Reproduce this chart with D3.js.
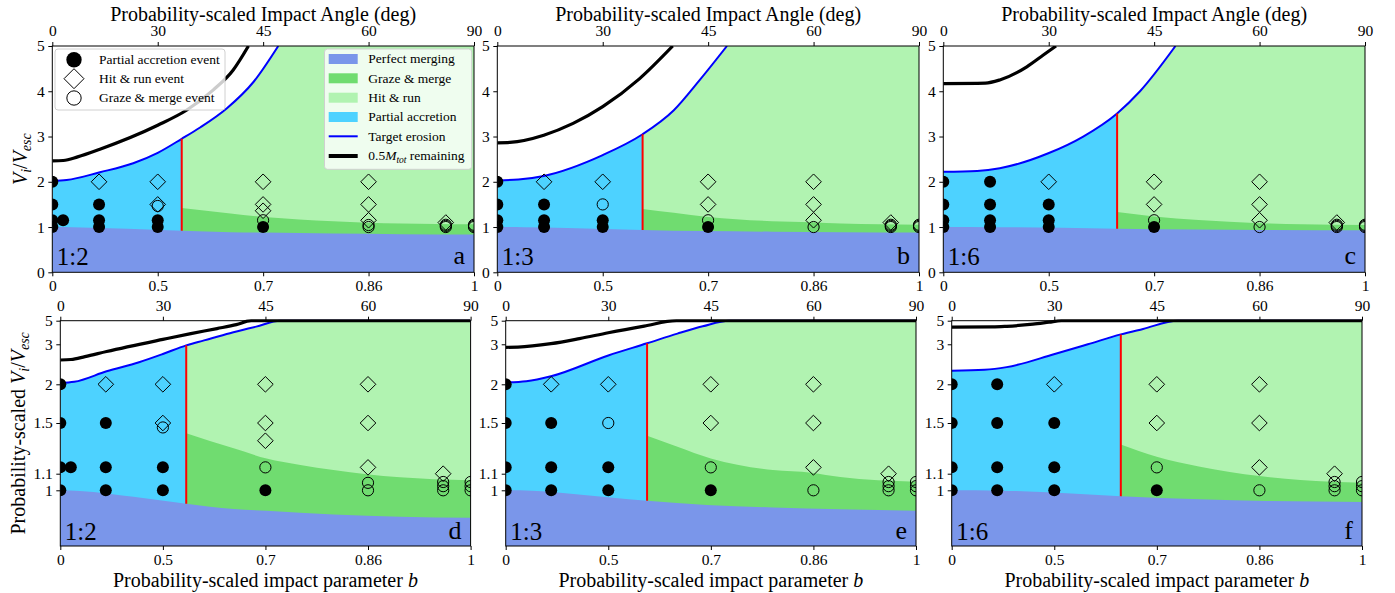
<!DOCTYPE html>
<html><head><meta charset="utf-8">
<script src="https://cdn.jsdelivr.net/npm/d3@7"></script>
<style>body{margin:0;background:#fff;} svg{display:block;}</style>
</head><body><svg id="chart" width="1395" height="593"></svg>
<script>
// ---------------- data ----------------
const RATIOS = ["1:2", "1:3", "1:6"];
const LETTERS_TOP = ["a", "b", "c"];
const LETTERS_BOTTOM = ["d", "e", "f"];
const B_TICKS = [0, 0.5, 0.7071, 0.866, 1];
const B_TICK_LABELS = ["0", "0.5", "0.7", "0.86", "1"];
const ANGLE_TICKS = [0, 30, 45, 60, 90];
const V_TICKS_TOP = [0, 1, 2, 3, 4, 5];
const V_TICKS_BOTTOM = [1, 1.1, 1.5, 2, 3, 5];
// probability-scaled velocity axis: reference velocities and their cumulative fraction of axis height
const V_PROB_VALUES    = [0.665, 1, 1.1, 1.5, 2, 2.22, 2.5, 2.86, 3, 3.5, 4.2, 5];
const V_PROB_FRACTIONS = [0, 0.2472, 0.3209, 0.5459, 0.7177, 0.7781, 0.8336, 0.8819, 0.8953, 0.9387, 0.9734, 1];

// b at the partial-accretion / hit-and-run transition
const RED_B = [0.554, 0.587, 0.642];

// perfect merging upper boundary [b, V/Vesc]
const PM_12 = [[0,1.0],[0.219,0.996],[0.422,0.961],[0.554,0.919],[0.65,0.887],[0.709,0.877],[0.816,0.855],[0.91,0.841],[1,0.835]];
const PM_13 = [[0,1.0],[0.25,0.998],[0.406,0.978],[0.587,0.937],[0.7,0.911],[0.807,0.897],[0.903,0.886],[1,0.877]];
const PM_16 = [[0,1.0],[0.344,0.998],[0.529,0.982],[0.642,0.964],[0.778,0.946],[0.876,0.936],[1,0.93]];
// graze & merge upper boundary
const GRAZE_12 = [[0.554,1.42],[0.65,1.30],[0.709,1.22],[0.765,1.169],[0.816,1.129],[0.864,1.096],[0.91,1.078],[0.954,1.066],[1,1.06]];
const GRAZE_13 = [[0.587,1.40],[0.647,1.313],[0.707,1.22],[0.807,1.129],[0.863,1.108],[0.903,1.08],[1,1.052]];
const GRAZE_16 = [[0.642,1.33],[0.707,1.234],[0.778,1.155],[0.866,1.086],[0.922,1.062],[1,1.046]];
// target erosion
const EROSION_12 = [[0,2.02],[0.184,2.04],[0.336,2.21],[0.438,2.41],[0.5,2.64],[0.554,2.95],[0.592,3.2],[0.643,3.62],[0.691,4.21],[0.732,5.0]];
const EROSION_13 = [[0,2.03],[0.224,2.05],[0.332,2.13],[0.5,2.59],[0.587,3.05],[0.647,3.58],[0.693,4.25],[0.738,5.0]];
const EROSION_16 = [[0,2.22],[0.283,2.24],[0.366,2.30],[0.499,2.63],[0.576,3.0],[0.642,3.51],[0.683,4.0],[0.742,5.0]];
// 0.5 Mtot remaining
const HALF_12 = [[0,2.46],[0.161,2.47],[0.245,2.55],[0.336,2.72],[0.5,3.25],[0.564,3.58],[0.618,4.03],[0.655,4.47],[0.682,5.0]];
const HALF_13 = [[0,2.86],[0.173,2.87],[0.332,3.03],[0.424,3.29],[0.5,3.66],[0.581,4.28],[0.645,5.0]];
const HALF_16 = [[0,4.17],[0.316,4.18],[0.366,4.25],[0.445,4.54],[0.487,4.8],[0.517,5.0]];

// simulated events [b, V/Vesc, type]  pa = partial accretion, hr = hit & run, gm = graze & merge
const EVENTS_12 = [
  [0,2,"pa"],[0,1.5,"pa"],[0,1.15,"pa"],[0,1,"pa"],[0.16,1.15,"pa"],
  [0.333,2,"hr"],[0.333,1.5,"pa"],[0.333,1.15,"pa"],[0.333,1,"pa"],
  [0.5,2,"hr"],[0.5,1.5,"hr"],[0.5,1.465,"gm"],[0.5,1.15,"pa"],[0.5,1,"pa"],
  [0.707,2,"hr"],[0.707,1.5,"hr"],[0.707,1.36,"hr"],[0.707,1.15,"gm"],[0.707,1,"pa"],
  [0.866,2,"hr"],[0.866,1.5,"hr"],[0.866,1.15,"hr"],[0.866,1.045,"gm"],[0.866,1,"gm"],
  [0.966,1.1,"hr"],[0.966,1.05,"gm"],[0.966,1.025,"gm"],[0.966,1,"gm"],
  [1,1.05,"gm"],[1,1.025,"gm"],[1,1,"gm"]
];
const EVENTS_13 = [
  [0,2,"pa"],[0,1.5,"pa"],[0,1.15,"pa"],[0,1,"pa"],
  [0.333,2,"hr"],[0.333,1.5,"pa"],[0.333,1.15,"pa"],[0.333,1,"pa"],
  [0.5,2,"hr"],[0.5,1.5,"gm"],[0.5,1.15,"pa"],[0.5,1,"pa"],
  [0.707,2,"hr"],[0.707,1.5,"hr"],[0.707,1.15,"gm"],[0.707,1,"pa"],
  [0.866,2,"hr"],[0.866,1.5,"hr"],[0.866,1.15,"hr"],[0.866,1,"gm"],
  [0.966,1.1,"hr"],[0.966,1.05,"gm"],[0.966,1.025,"gm"],[0.966,1,"gm"],
  [1,1.05,"gm"],[1,1.025,"gm"],[1,1,"gm"]
];
const EVENTS_16 = [
  [0,2,"pa"],[0,1.5,"pa"],[0,1.15,"pa"],[0,1,"pa"],
  [0.333,2,"pa"],[0.333,1.5,"pa"],[0.333,1.15,"pa"],[0.333,1,"pa"],
  [0.5,2,"hr"],[0.5,1.5,"pa"],[0.5,1.15,"pa"],[0.5,1,"pa"],
  [0.707,2,"hr"],[0.707,1.5,"hr"],[0.707,1.15,"gm"],[0.707,1,"pa"],
  [0.866,2,"hr"],[0.866,1.5,"hr"],[0.866,1.15,"hr"],[0.866,1,"gm"],
  [0.966,1.1,"hr"],[0.966,1.05,"gm"],[0.966,1.025,"gm"],[0.966,1,"gm"],
  [1,1.05,"gm"],[1,1.025,"gm"],[1,1,"gm"]
];

const PM = [PM_12, PM_13, PM_16];
const GRAZE = [GRAZE_12, GRAZE_13, GRAZE_16];
const EROSION = [EROSION_12, EROSION_13, EROSION_16];
const HALF = [HALF_12, HALF_13, HALF_16];
const EVENTS = [EVENTS_12, EVENTS_13, EVENTS_16];

const REGION_NAMES = ["Perfect merging", "Graze & merge", "Hit & run", "Partial accretion"];
const EVENT_NAMES = ["Partial accretion event", "Hit & run event", "Graze & merge event"];

// ---------------- style / layout ----------------
const FONT = '"Liberation Serif","Times New Roman",serif';
const COLORS = { pm: "#7a96ea", gm: "#70dc70", hr: "#b1f3b1", pa: "#4dd2ff" };
const TOPROW = { y0: 46, y1: 272.3, xs: [52.3, 497.3, 943.3], w: 421.7 };
const BOTROW = { y0: 320.7, y1: 546, xs: [60.3, 505.7, 951.7], w: 410.3 };

const svg = d3.select("#chart");
const defs = svg.append("defs");

function diamondPath(cx, cy, h) {
  return `M${cx},${cy - h}L${cx + h},${cy}L${cx},${cy + h}L${cx - h},${cy}Z`;
}
function drawMarker(g, type, cx, cy, scale) {
  if (type === "pa") {
    g.append("circle").attr("cx", cx).attr("cy", cy).attr("r", 6 * scale).attr("fill", "#000");
  } else if (type === "gm") {
    g.append("circle").attr("cx", cx).attr("cy", cy).attr("r", 5.6 * scale).attr("fill", "none").attr("stroke", "#000").attr("stroke-width", 1);
  } else {
    g.append("path").attr("d", diamondPath(cx, cy, 7.8 * scale)).attr("fill", "none").attr("stroke", "#000").attr("stroke-width", 1);
  }
}
function clipRect(id, x0, y0, w, h) {
  defs.append("clipPath").attr("id", id).append("rect").attr("x", x0).attr("y", y0).attr("width", w).attr("height", h);
  return `url(#${id})`;
}

function drawPanel(row, col) {
  const L = row === 0 ? TOPROW : BOTROW;
  const left = L.xs[col], right = left + L.w, top = L.y0, bottom = L.y1;
  const x = d3.scalePow().exponent(2).domain([0, 1]).range([left, right]);
  const y = row === 0
    ? d3.scaleLinear().domain([0, 5]).range([bottom, top])
    : d3.scaleLinear().domain(V_PROB_VALUES).range(V_PROB_FRACTIONS.map(f => bottom - f * (bottom - top)));
  const vmin = row === 0 ? 0 : V_PROB_VALUES[0];

  const red = RED_B[col];
  const pm = PM[col], gz = GRAZE[col];
  let er = EROSION[col], half = HALF[col];
  if (row === 1) { er = er.concat([[1, 5]]); half = half.concat([[1, 5]]); }

  const clipAll = clipRect(`c${row}${col}`, left, top, right - left, bottom - top);
  const clipLeft = clipRect(`cl${row}${col}`, left, top, x(red) - left, bottom - top);
  const clipLines = clipRect(`cn${row}${col}`, left, top - (row === 0 ? 0 : 1.5), right - left, bottom - top + 1.5);

  const area = (data, base) => d3.area().x(d => x(d[0])).y0(y(base)).y1(d => y(d[1])).curve(d3.curveMonotoneX)(data);
  const line = d3.line().x(d => x(d[0])).y(d => y(d[1])).curve(d3.curveMonotoneX);

  const g = svg.append("g").attr("clip-path", clipAll);
  g.append("rect").attr("x", x(red)).attr("y", top).attr("width", right - x(red)).attr("height", bottom - top).attr("fill", COLORS.hr);
  g.append("path").attr("d", area(er, vmin)).attr("fill", COLORS.pa).attr("clip-path", clipLeft);
  g.append("path").attr("d", area(er, 5)).attr("fill", "#fff");
  g.append("path").attr("d", area(gz, vmin)).attr("fill", COLORS.gm);
  g.append("path").attr("d", area(pm, vmin)).attr("fill", COLORS.pm);

  const gl = svg.append("g").attr("clip-path", clipLines);
  gl.append("path").attr("d", line(er)).attr("fill", "none").attr("stroke", "#0000ff").attr("stroke-width", 2);
  gl.append("path").attr("d", line(half)).attr("fill", "none").attr("stroke", "#000").attr("stroke-width", 3.2);
  const pmRed = pm.find(d => d[0] === red)[1];
  const erRed = er.find(d => d[0] === red)[1];
  gl.append("line").attr("x1", x(red)).attr("x2", x(red)).attr("y1", y(pmRed)).attr("y2", y(erRed))
    .attr("stroke", "#ff0000").attr("stroke-width", 2);

  const gm = svg.append("g").attr("clip-path", clipAll);
  EVENTS[col].forEach(e => drawMarker(gm, e[2], x(e[0]), y(e[1]), 1));

  // frame
  svg.append("rect").attr("x", left).attr("y", top).attr("width", right - left).attr("height", bottom - top)
    .attr("fill", "none").attr("stroke", "#000").attr("stroke-width", 1);

  const style = s => {
    s.select(".domain").remove();
    s.selectAll("text").attr("font-family", FONT).attr("font-size", 15.5).attr("fill", "#000");
    s.selectAll("line").attr("stroke", "#000");
  };
  svg.append("g").attr("transform", `translate(0,${bottom})`)
    .call(d3.axisBottom(x).tickValues(B_TICKS).tickFormat((d, i) => B_TICK_LABELS[i]).tickSize(4).tickPadding(4)).call(style);
  svg.append("g").attr("transform", `translate(0,${top})`)
    .call(d3.axisTop(x).tickValues(ANGLE_TICKS.map(a => Math.sin(a * Math.PI / 180))).tickFormat((d, i) => ANGLE_TICKS[i]).tickSize(4).tickPadding(6)).call(style);
  svg.append("g").attr("transform", `translate(${left},0)`)
    .call(d3.axisLeft(y).tickValues(row === 0 ? V_TICKS_TOP : V_TICKS_BOTTOM).tickFormat(d => String(d)).tickSize(4).tickPadding(3.5)).call(style);

  // annotations
  svg.append("text").attr("x", left + 4.5).attr("y", bottom - (row === 0 ? 7 : 6))
    .attr("font-family", FONT).attr("font-size", 25).text(RATIOS[col]);
  svg.append("text").attr("x", right - 9).attr("y", bottom - (row === 0 ? 8.5 : 7.5)).attr("text-anchor", "end")
    .attr("font-family", FONT).attr("font-size", 26).text(row === 0 ? LETTERS_TOP[col] : LETTERS_BOTTOM[col]);

  const cx = (left + right) / 2;
  if (row === 0) {
    svg.append("text").attr("x", cx).attr("y", 20.7).attr("text-anchor", "middle")
      .attr("font-family", FONT).attr("font-size", 20).text("Probability-scaled Impact Angle (deg)");
  } else {
    const t = svg.append("text").attr("x", cx).attr("y", 586.7).attr("text-anchor", "middle")
      .attr("font-family", FONT).attr("font-size", 20);
    t.append("tspan").text("Probability-scaled impact parameter ");
    t.append("tspan").attr("font-style", "italic").text("b");
  }

  if (row === 0 && col === 0) drawLegends();
}

function vLabel(xp, yc, prefix) {
  const t = svg.append("text").attr("transform", `translate(${xp},${yc}) rotate(-90)`)
    .attr("text-anchor", "middle").attr("font-family", FONT).attr("font-size", 20);
  if (prefix) t.append("tspan").text(prefix);
  t.append("tspan").attr("font-style", "italic").text("V");
  t.append("tspan").attr("font-style", "italic").attr("font-size", 14).attr("dy", 4).text("i");
  t.append("tspan").attr("dy", -4).text("/");
  t.append("tspan").attr("font-style", "italic").text("V");
  t.append("tspan").attr("font-style", "italic").attr("font-size", 14).attr("dy", 4).text("esc");
}

function drawLegends() {
  // event legend
  const g1 = svg.append("g");
  g1.append("rect").attr("x", 55).attr("y", 49).attr("width", 170).attr("height", 61).attr("rx", 3)
    .attr("fill", "#fff").attr("fill-opacity", 0.8).attr("stroke", "#d0d0d0").attr("stroke-width", 1);
  const types = ["pa", "hr", "gm"];
  const rows1 = [59.7, 78.7, 98];
  types.forEach((tp, i) => {
    drawMarker(g1, tp, 74, rows1[i], 1.28);
    g1.append("text").attr("x", 99).attr("y", rows1[i]).attr("dy", "0.33em")
      .attr("font-family", FONT).attr("font-size", 13.5).text(EVENT_NAMES[i]);
  });
  // region legend
  const g2 = svg.append("g");
  g2.append("rect").attr("x", 324.5).attr("y", 49).attr("width", 147.2).attr("height", 120.3).attr("rx", 3)
    .attr("fill", "#fff").attr("fill-opacity", 0.8).attr("stroke", "#d0d0d0").attr("stroke-width", 1);
  const rows2 = [59, 78.3, 97.7, 117, 136.3, 156];
  const regionColors = [COLORS.pm, COLORS.gm, COLORS.hr, COLORS.pa];
  regionColors.forEach((c, i) => {
    g2.append("rect").attr("x", 328.7).attr("y", rows2[i] - 5).attr("width", 29).attr("height", 10).attr("fill", c);
    g2.append("text").attr("x", 368.3).attr("y", rows2[i]).attr("dy", "0.33em")
      .attr("font-family", FONT).attr("font-size", 13.5).text(REGION_NAMES[i]);
  });
  g2.append("line").attr("x1", 328.7).attr("x2", 357.7).attr("y1", rows2[4]).attr("y2", rows2[4]).attr("stroke", "#0000ff").attr("stroke-width", 2);
  g2.append("text").attr("x", 368.3).attr("y", rows2[4]).attr("dy", "0.33em")
    .attr("font-family", FONT).attr("font-size", 13.5).text("Target erosion");
  g2.append("line").attr("x1", 328.7).attr("x2", 357.7).attr("y1", rows2[5]).attr("y2", rows2[5]).attr("stroke", "#000").attr("stroke-width", 4);
  const t = g2.append("text").attr("x", 368.3).attr("y", rows2[5]).attr("dy", "0.33em")
    .attr("font-family", FONT).attr("font-size", 13.5);
  t.append("tspan").text("0.5");
  t.append("tspan").attr("font-style", "italic").text("M");
  t.append("tspan").attr("font-style", "italic").attr("font-size", 9.5).attr("dy", 3).text("tot");
  t.append("tspan").attr("dy", -3).text(" remaining");
}

for (let r = 0; r < 2; r++) for (let c = 0; c < 3; c++) drawPanel(r, c);
vLabel(27, (TOPROW.y0 + TOPROW.y1) / 2, null);
vLabel(24.5, (BOTROW.y0 + BOTROW.y1) / 2, "Probability-scaled ");
</script></body></html>
